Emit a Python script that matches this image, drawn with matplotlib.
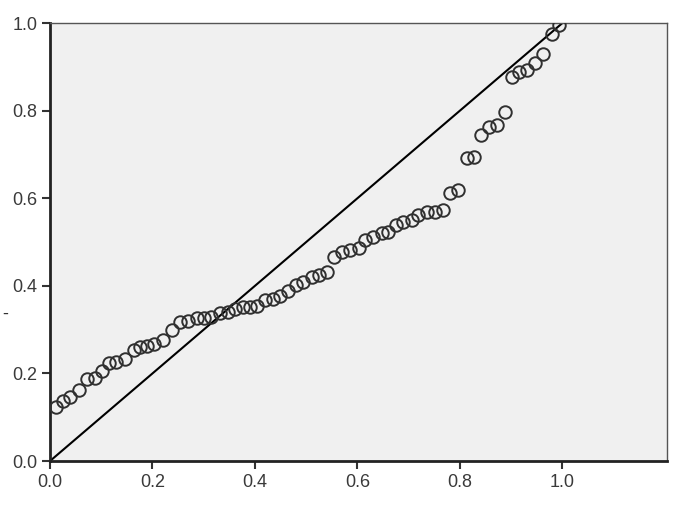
import numpy as np
import matplotlib
matplotlib.use('Agg')
from matplotlib import pyplot as plt

plt.rcParams['font.family'] = ['Liberation Sans', 'DejaVu Sans']

# observed cumulative probability (x) vs expected cumulative probability (y)
obs_cum_prob = [0.012, 0.025, 0.039, 0.057, 0.073, 0.088, 0.102, 0.116, 0.129, 0.146,
                0.163, 0.176, 0.189, 0.202, 0.221, 0.239, 0.254, 0.270, 0.286, 0.300,
                0.315, 0.332, 0.348, 0.361, 0.377, 0.390, 0.403, 0.420, 0.436, 0.449,
                0.465, 0.481, 0.494, 0.511, 0.524, 0.540, 0.555, 0.570, 0.585, 0.602,
                0.615, 0.631, 0.647, 0.660, 0.676, 0.689, 0.706, 0.719, 0.735, 0.751,
                0.767, 0.780, 0.797, 0.813, 0.827, 0.842, 0.857, 0.872, 0.888, 0.901,
                0.916, 0.930, 0.946, 0.963, 0.979, 0.994]
exp_cum_prob = [0.123, 0.138, 0.147, 0.162, 0.187, 0.189, 0.206, 0.223, 0.227, 0.234,
                0.253, 0.260, 0.263, 0.267, 0.276, 0.299, 0.317, 0.320, 0.327, 0.326,
                0.329, 0.337, 0.341, 0.346, 0.351, 0.351, 0.354, 0.368, 0.371, 0.377,
                0.389, 0.402, 0.409, 0.421, 0.425, 0.432, 0.466, 0.477, 0.482, 0.486,
                0.505, 0.512, 0.520, 0.523, 0.539, 0.546, 0.550, 0.562, 0.568, 0.569,
                0.573, 0.611, 0.619, 0.691, 0.695, 0.744, 0.763, 0.767, 0.797, 0.876,
                0.889, 0.893, 0.908, 0.929, 0.974, 0.995]
ref_line = [0.0, 1.0]
ticks = [0.0, 0.2, 0.4, 0.6, 0.8, 1.0]
tick_labels = ['0.0', '0.2', '0.4', '0.6', '0.8', '1.0']

fig = plt.figure(figsize=(6.86, 5.08), dpi=100)
ax = fig.add_axes([0.0729, 0.0925, 0.8994, 0.8622])
ax.set_facecolor('#f0f0f0')

ax.plot(ref_line, ref_line, color='black', lw=1.5, zorder=2)
ax.plot(obs_cum_prob, exp_cum_prob, ls='none', marker='o', ms=9,
        mfc='none', mec='#303030', mew=1.4, zorder=3)

ax.set_xlim(0, 1.204)
ax.set_ylim(0, 1.0)
ax.set_xticks(ticks)
ax.set_xticklabels(tick_labels)
ax.set_yticks(ticks)
ax.set_yticklabels(tick_labels)
ax.tick_params(length=6, width=1.5, color='#333333', labelsize=13,
               labelcolor='#3a3a3a', pad=3)

for s in ['left', 'bottom']:
    ax.spines[s].set_linewidth(2)
    ax.spines[s].set_color('#222222')
for s in ['top', 'right']:
    ax.spines[s].set_linewidth(1)
    ax.spines[s].set_color('#555555')

# clipped leftover from the y-axis title
fig.text(0.003, 0.372, '-', fontsize=13, color='#333333')

plt.savefig('out.png', dpi=100)
